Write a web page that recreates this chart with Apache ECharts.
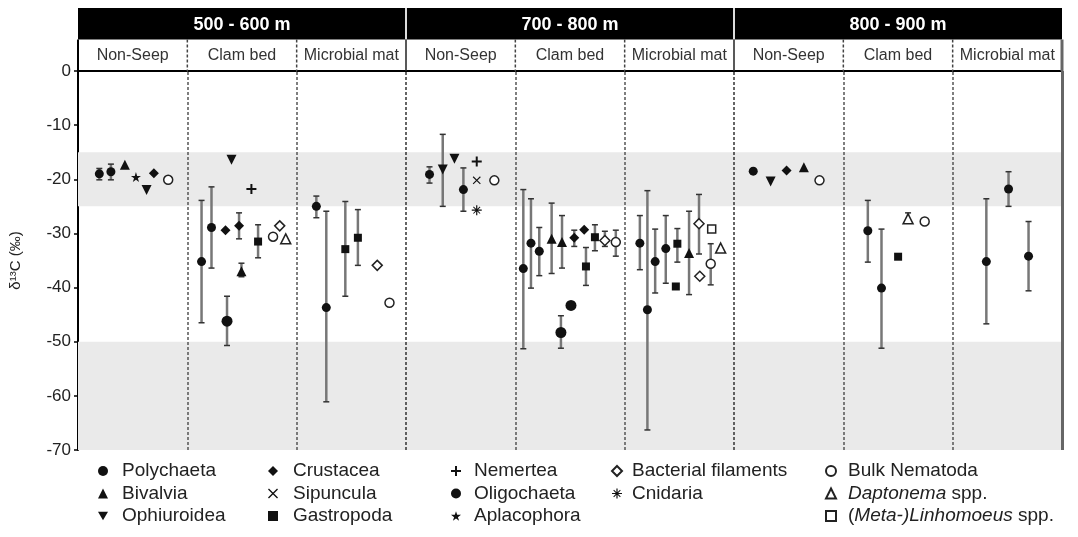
<!DOCTYPE html>
<html>
<head>
<meta charset="utf-8">
<script src="https://cdn.jsdelivr.net/npm/echarts@6/dist/echarts.min.js"></script>
<style>
html,body{margin:0;padding:0;background:#fff;}
#chart{width:1078px;height:537px;}
</style>
</head>
<body>
<div id="chart"></div>
<script>
// ---------- labels ----------
const depthLabels = ['500 - 600 m', '700 - 800 m', '800 - 900 m'];
const habitatLabels = ['Non-Seep', 'Clam bed', 'Microbial mat'];
const yAxisName = 'δ¹³C (‰)';
// reference bands of δ13C (‰)
const bandRanges = [[-15, -25], [-50, -70]];

// ---------- data: [x position (habitat-column units), mean δ13C, lower whisker, upper whisker] ----------
const polychaeta = [
  [0.195, -19.0, -20.1, -18.0], [0.301, -18.6, -20.1, -17.2],
  [1.130, -35.2, -46.5, -23.9], [1.221, -28.9, -36.4, -21.4],
  [2.180, -25.0, -27.1, -23.1], [2.271, -43.7, -61.1, -25.9],
  [3.215, -19.1, -20.7, -17.7], [3.525, -21.9, -25.9, -17.9],
  [4.073, -36.5, -51.3, -21.9], [4.143, -31.8, -40.1, -23.6], [4.219, -33.3, -37.8, -28.9],
  [5.139, -31.8, -36.7, -26.7], [5.208, -44.1, -66.3, -22.1], [5.279, -35.2, -41.0, -29.2], [5.376, -32.8, -39.2, -26.7],
  [6.176, -18.5, null, null],
  [7.224, -29.5, -35.3, -23.9], [7.349, -40.1, -51.2, -29.2],
  [8.308, -35.2, -46.7, -23.6], [8.511, -21.8, -25.0, -18.6], [8.694, -34.2, -40.6, -27.8]
];
const bivalvia = [
  [0.429, -17.3, null, null], [1.495, -37.0, -38.0, -35.5],
  [4.332, -31.0, -37.4, -24.4], [4.427, -31.6, -36.4, -26.7],
  [5.589, -33.6, -41.3, -25.9], [6.639, -17.8, null, null]
];
const ophiuroidea = [
  [0.627, -22.0, null, null], [1.404, -16.4, null, null],
  [3.336, -18.2, -25.0, -11.7], [3.443, -16.2, null, null], [6.335, -20.4, null, null]
];
const crustacea = [
  [0.694, -18.9, null, null], [1.349, -29.4, null, null], [1.473, -28.6, -31.0, -26.2],
  [4.539, -30.8, -32.4, -29.4], [4.630, -29.3, null, null], [6.481, -18.4, null, null]
];
const sipuncula = [[3.647, -20.2, null, null]];
const gastropoda = [
  [1.647, -31.5, -34.5, -28.4], [2.445, -32.9, -41.6, -24.1], [2.560, -30.8, -35.9, -25.6],
  [4.646, -36.1, -39.6, -32.6], [4.728, -30.7, -33.2, -28.4],
  [5.468, -39.8, null, null], [5.482, -31.9, -35.3, -29.1], [7.501, -34.3, null, null]
];
const nemertea = [[1.586, -21.8, null, null], [3.647, -16.7, null, null]];
const oligochaeta = [[1.363, -46.2, -50.7, -41.6], [4.417, -48.3, -51.2, -45.2], [4.509, -43.3, null, null]];
const aplacophora = [[0.530, -19.6, null, null]];
const bacterialFilaments = [
  [1.845, -28.6, null, null], [2.737, -35.9, null, null], [4.819, -31.3, -32.4, -29.6],
  [5.680, -28.2, -33.8, -22.8], [5.687, -37.9, null, null]
];
const cnidaria = [[3.647, -25.7, null, null]];
const bulkNematoda = [
  [0.825, -20.1, null, null], [1.784, -30.6, null, null], [2.849, -42.8, null, null],
  [3.808, -20.2, null, null], [4.919, -31.6, -34.2, -29.4], [5.787, -35.6, -39.5, -31.9],
  [6.782, -20.2, null, null], [7.744, -27.8, null, null]
];
const daptonema = [[1.900, -31.0, null, null], [5.878, -32.7, null, null], [7.592, -27.3, -27.7, -26.2]];
const linhomoeus = [[5.796, -29.2, null, null]];

// ---------- styles ----------
const FONT = '"Liberation Sans", Arial, Helvetica, sans-serif';
const INK = '#111';
const P_TRI_DOWN = 'path://M0,0 L20,0 L10,17 Z';
const P_PLUS = 'path://M8,0 L12,0 L12,8 L20,8 L20,12 L12,12 L12,20 L8,20 L8,12 L0,12 L0,8 L8,8 Z';
const P_CROSS = 'path://M2.6,4 L4,2.6 L17.4,16 L16,17.4 Z M16,2.6 L17.4,4 L4,17.4 L2.6,16 Z';
const P_AST = 'path://M8.8,0 L11.2,0 L11.2,8.8 L20,8.8 L20,11.2 L11.2,11.2 L11.2,20 L8.8,20 L8.8,11.2 L0,11.2 L0,8.8 L8.8,8.8 Z M2.6,4 L4,2.6 L17.4,16 L16,17.4 Z M16,2.6 L17.4,4 L4,17.4 L2.6,16 Z';
const P_STAR = 'path://M10,0 L12.4,7.2 L20,7.2 L13.8,11.8 L16.2,19 L10,14.5 L3.8,19 L6.2,11.8 L0,7.2 L7.6,7.2 Z';

const taxa = [
  {name: 'Polychaeta', data: polychaeta, symbol: 'circle', size: 9},
  {name: 'Bivalvia', data: bivalvia, symbol: 'triangle', size: 10},
  {name: 'Ophiuroidea', data: ophiuroidea, symbol: P_TRI_DOWN, size: 10},
  {name: 'Crustacea', data: crustacea, symbol: 'diamond', size: 10},
  {name: 'Sipuncula', data: sipuncula, symbol: P_CROSS, size: 8},
  {name: 'Gastropoda', data: gastropoda, symbol: 'rect', size: 8},
  {name: 'Nemertea', data: nemertea, symbol: P_PLUS, size: 10},
  {name: 'Oligochaeta', data: oligochaeta, symbol: 'circle', size: 11},
  {name: 'Aplacophora', data: aplacophora, symbol: P_STAR, size: 10},
  {name: 'Bacterial filaments', data: bacterialFilaments, symbol: 'diamond', size: 10, hollow: true},
  {name: 'Cnidaria', data: cnidaria, symbol: P_AST, size: 10},
  {name: 'Bulk Nematoda', data: bulkNematoda, symbol: 'circle', size: 9, hollow: true},
  {name: 'Daptonema spp.', data: daptonema, symbol: 'triangle', size: 10, hollow: true},
  {name: '(Meta-)Linhomoeus spp.', data: linhomoeus, symbol: 'rect', size: 8, hollow: true}
];

// ---------- build series ----------
const errData = [];
taxa.forEach(t => t.data.forEach(d => { if (d[2] !== null) errData.push([d[0], d[2], d[3]]); }));

function renderErr(params, api) {
  const lo = api.coord([api.value(0), api.value(1)]);
  const hi = api.coord([api.value(0), api.value(2)]);
  const c = 3;
  return {
    type: 'group',
    children: [
      {type: 'line', shape: {x1: lo[0], y1: lo[1], x2: hi[0], y2: hi[1]}, style: {stroke: '#777', lineWidth: 2.5}},
      {type: 'line', shape: {x1: lo[0] - c, y1: lo[1], x2: lo[0] + c, y2: lo[1]}, style: {stroke: '#333', lineWidth: 1.5}},
      {type: 'line', shape: {x1: hi[0] - c, y1: hi[1], x2: hi[0] + c, y2: hi[1]}, style: {stroke: '#333', lineWidth: 1.5}}
    ]
  };
}

function renderDepth(params, api) {
  const a = api.coord([api.value(0), 2]);
  const b = api.coord([api.value(1), 1]);
  const kids = [
    {type: 'rect', shape: {x: a[0], y: a[1], width: b[0] - a[0], height: b[1] - a[1]}, style: {fill: '#000'}},
    {type: 'text', style: {text: depthLabels[params.dataIndex], x: (a[0] + b[0]) / 2, y: (a[1] + b[1]) / 2 + 1,
      align: 'center', verticalAlign: 'middle', fill: '#fff', font: 'bold 18px ' + FONT}}
  ];
  if (params.dataIndex > 0) {
    kids.push({type: 'line', shape: {x1: a[0], y1: a[1], x2: a[0], y2: b[1]}, style: {stroke: '#ddd', lineWidth: 2}});
  }
  return {type: 'group', children: kids};
}

function renderHabitat(params, api) {
  const i = params.dataIndex;
  const a = api.coord([api.value(0), 1]);
  const b = api.coord([api.value(1), 0]);
  const kids = [
    {type: 'text', style: {text: habitatLabels[i % 3], x: (a[0] + b[0]) / 2, y: (a[1] + b[1]) / 2,
      align: 'center', verticalAlign: 'middle', fill: '#333', font: '16px ' + FONT}},
    {type: 'line', shape: {x1: a[0], y1: b[1], x2: b[0], y2: b[1]}, style: {stroke: '#000', lineWidth: 2}}
  ];
  if (i === 0) {
    kids.push({type: 'line', shape: {x1: a[0], y1: a[1], x2: a[0], y2: b[1]}, style: {stroke: '#000', lineWidth: 2}});
  } else if (i % 3 === 0) {
    kids.push({type: 'line', shape: {x1: a[0], y1: a[1], x2: a[0], y2: b[1]}, style: {stroke: '#222', lineWidth: 1.5}});
  } else {
    kids.push({type: 'line', shape: {x1: a[0], y1: a[1], x2: a[0], y2: b[1]}, style: {stroke: '#444', lineWidth: 1.5, lineDash: [3, 2]}});
  }
  if (i === 8) {
    kids.push({type: 'line', shape: {x1: b[0], y1: a[1], x2: b[0], y2: b[1]}, style: {stroke: '#666', lineWidth: 3}});
  }
  return {type: 'group', children: kids};
}

const series = [];
// background: shaded bands, separators, right frame
series.push({
  name: 'bg', type: 'scatter', data: [], xAxisIndex: 0, yAxisIndex: 0, silent: true,
  markArea: {
    silent: true,
    itemStyle: {color: '#eaeaea'},
    data: bandRanges.map(r => [{xAxis: 0, yAxis: r[0]}, {xAxis: 9, yAxis: r[1]}])
  },
  markLine: {
    silent: true, symbol: 'none', label: {show: false},
    lineStyle: {color: '#444', width: 1.5, type: [3, 2]},
    data: [1, 2, 3, 4, 5, 6, 7, 8].map(v => ({xAxis: v, lineStyle: {color: (v % 3 === 0) ? '#333' : '#555'}}))
      .concat([{xAxis: 9, lineStyle: {type: 'solid', color: '#666', width: 3}}])
  }
});
series.push({
  name: 'errorbars', type: 'custom', xAxisIndex: 0, yAxisIndex: 0, data: errData,
  renderItem: renderErr, silent: true, z: 3
});
taxa.forEach(t => {
  series.push({
    name: t.name, type: 'scatter', xAxisIndex: 0, yAxisIndex: 0, z: 4,
    symbol: t.symbol, symbolSize: t.size,
    data: t.data.map(d => [d[0], d[1]]),
    itemStyle: t.hollow ? {color: '#fff', borderColor: '#222', borderWidth: 1.5, opacity: 1}
                        : {color: INK, opacity: 1}
  });
});
series.push({
  name: 'depthHeader', type: 'custom', xAxisIndex: 1, yAxisIndex: 1, silent: true, clip: false,
  data: [[0, 3], [3, 6], [6, 9]], renderItem: renderDepth
});
series.push({
  name: 'habitatHeader', type: 'custom', xAxisIndex: 1, yAxisIndex: 1, silent: true, clip: false,
  data: [0, 1, 2, 3, 4, 5, 6, 7, 8].map(i => [i, i + 1]), renderItem: renderHabitat
});

// ---------- legend ----------
const legendCols = [
  {names: ['Polychaeta', 'Bivalvia', 'Ophiuroidea'], left: 98, pad: 9},
  {names: ['Crustacea', 'Sipuncula', 'Gastropoda'], left: 268, pad: 10},
  {names: ['Nemertea', 'Oligochaeta', 'Aplacophora'], left: 451, pad: 8},
  {names: ['Bacterial filaments', 'Cnidaria'], left: 611, pad: 5},
  {names: ['Bulk Nematoda', 'Daptonema spp.', '(Meta-)Linhomoeus spp.'], left: 825, pad: 7}
];
const legends = legendCols.map(c => ({
  data: c.names, orient: 'vertical', left: c.left, top: 461, padding: 0,
  itemWidth: 10, itemHeight: 10, itemGap: 2.5, selectedMode: false,
  formatter: n => n === 'Daptonema spp.' ? '{i|Daptonema} spp.'
             : n === '(Meta-)Linhomoeus spp.' ? '({i|Meta-)}{i|Linhomoeus} spp.' : n,
  textStyle: {fontFamily: FONT, fontSize: 19, color: '#222', lineHeight: 20, padding: [0, 0, 0, c.pad],
    rich: {i: {fontFamily: FONT, fontSize: 19, fontStyle: 'italic', color: '#222', lineHeight: 20}}}
}));

const option = {
  animation: false,
  backgroundColor: '#fff',
  grid: [
    {left: 78, right: 16, top: 71, bottom: 87},
    {left: 78, right: 16, top: 8, height: 63}
  ],
  xAxis: [
    {type: 'value', gridIndex: 0, min: 0, max: 9, show: false},
    {type: 'value', gridIndex: 1, min: 0, max: 9, show: false}
  ],
  yAxis: [
    {type: 'value', gridIndex: 0, min: -70, max: 0, interval: 10,
      name: yAxisName, nameLocation: 'middle', nameGap: 55, nameRotate: 90,
      nameTextStyle: {fontFamily: FONT, fontSize: 15, color: '#222'},
      axisLine: {show: true, lineStyle: {color: '#000', width: 2}},
      axisTick: {show: true, length: 4, lineStyle: {color: '#000', width: 1.5}},
      axisLabel: {fontFamily: FONT, fontSize: 17, color: '#222', margin: 7},
      splitLine: {show: false}},
    {type: 'value', gridIndex: 1, min: 0, max: 2, show: false}
  ],
  legend: legends,
  series: series
};

const chart = echarts.init(document.getElementById('chart'), null, {renderer: 'canvas'});
chart.setOption(option);
</script>
</body>
</html>
